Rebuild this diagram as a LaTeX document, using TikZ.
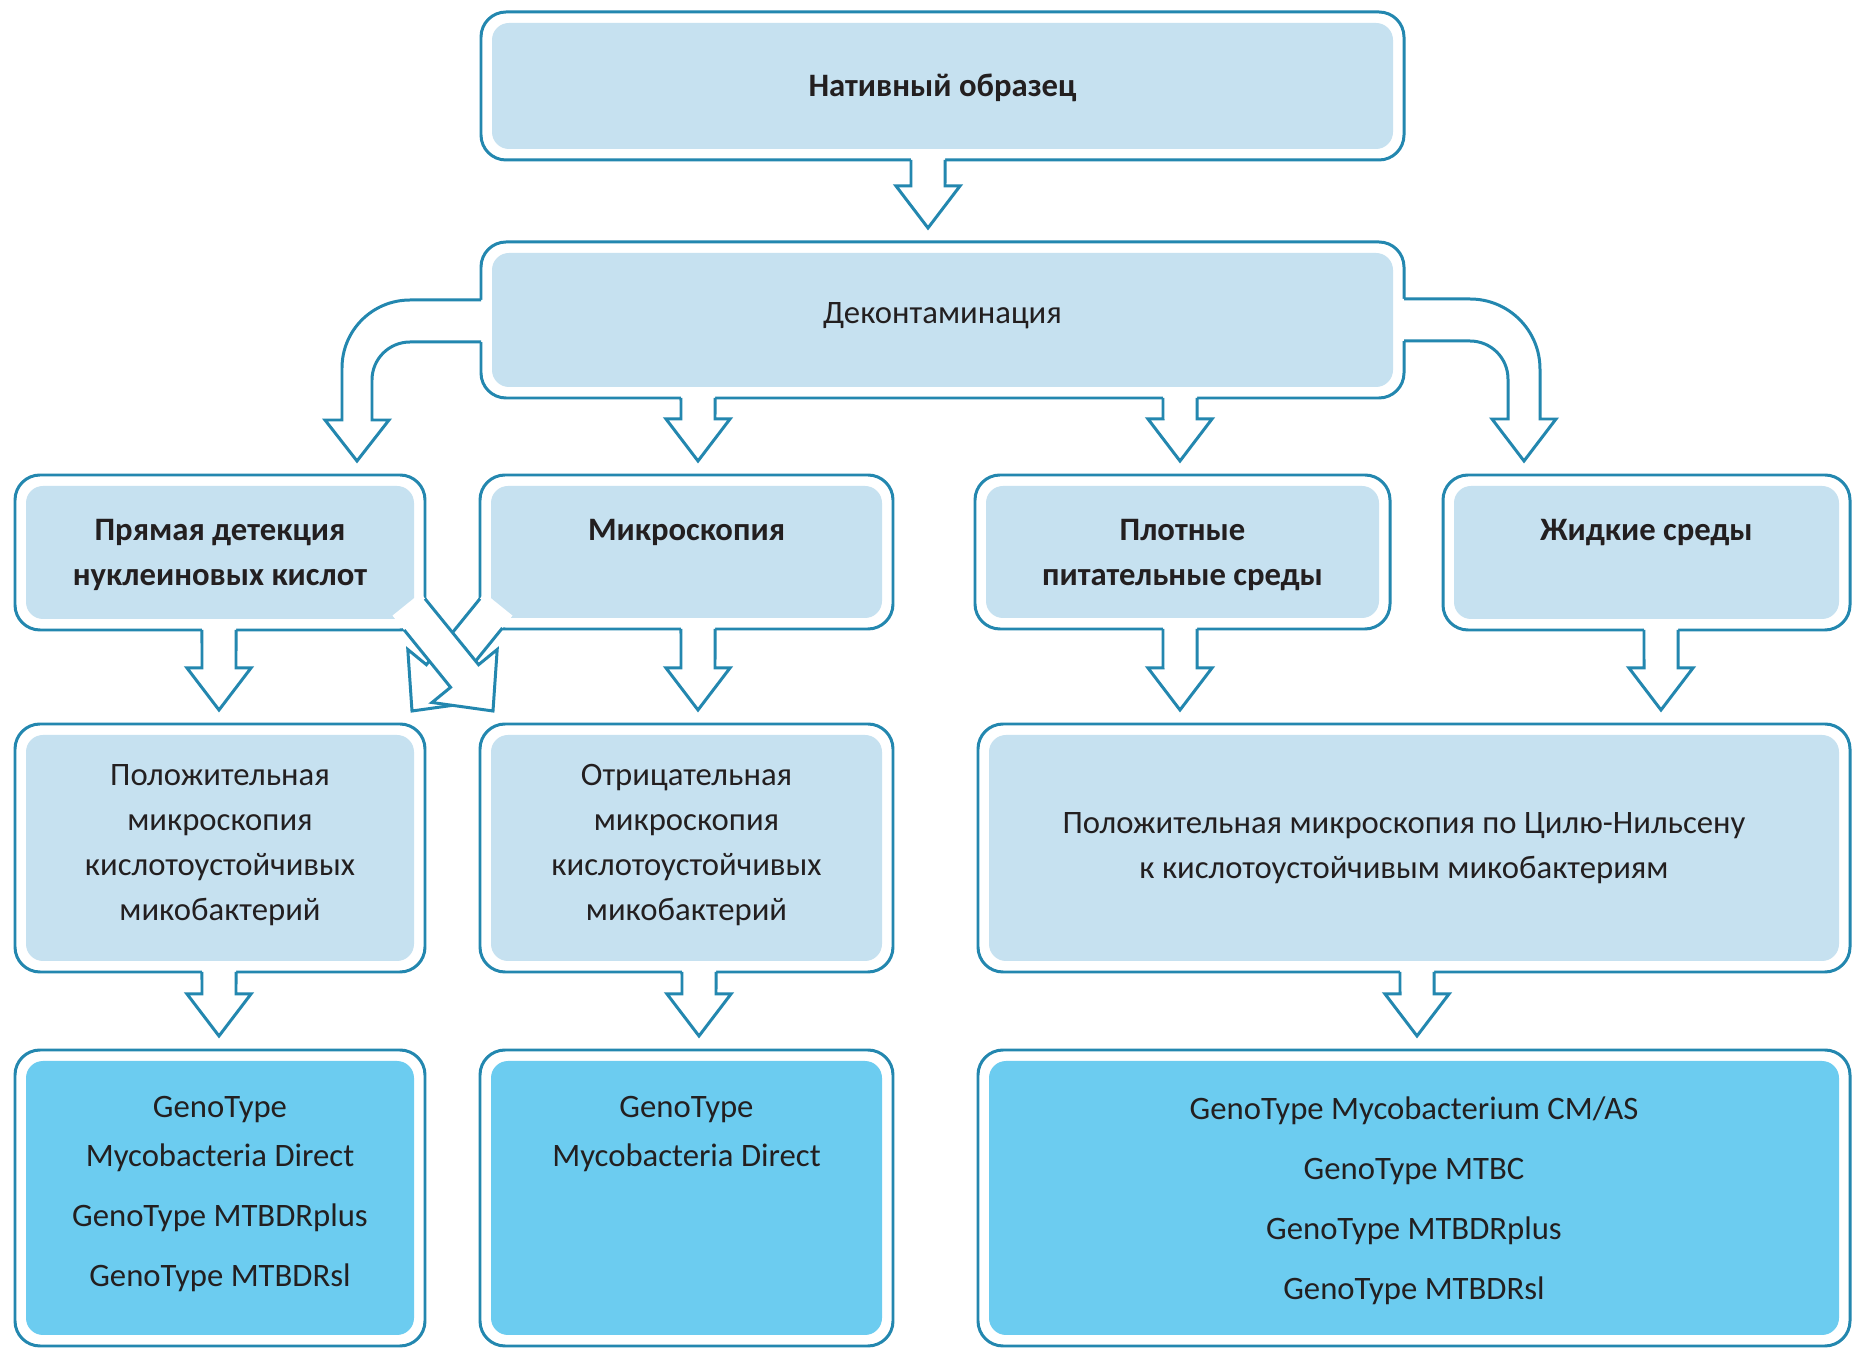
\documentclass[tikz,border=0pt]{standalone}
\usepackage{fontspec}
\setmainfont{Carlito}
\usetikzlibrary{fit}

% block arrow straight down: x position (px), source node, target node
\newcommand{\blockdown}[3]{%
  \coordinate (bx) at (#1,0);
  \coordinate (bs) at (bx |- #2.south);
  \coordinate (bt0) at (bx |- #3.north);
  \coordinate (bt) at ([yshift=0.14cm]bt0);
  \fill[white] ([shift={(-17,-5)}]bs) -- ([shift={(-17,-42)}]bt) -- ([shift={(-32,-42)}]bt) -- (bt)
    -- ([shift={(32,-42)}]bt) -- ([shift={(17,-42)}]bt) -- ([shift={(17,-5)}]bs) -- cycle;
  \draw[arrline] ([xshift=-0.17cm]bs) -- ([shift={(-17,-42)}]bt) -- ([shift={(-32,-42)}]bt) -- (bt)
    -- ([shift={(32,-42)}]bt) -- ([shift={(17,-42)}]bt) -- ([xshift=0.17cm]bs);
}

\begin{document}
\begin{tikzpicture}[x=0.01cm,y=-0.01cm,
  outerbox/.style={draw=frame,line width=0.85pt,rounded corners=0.25cm,inner sep=0pt,outer sep=0pt},
  arrline/.style={draw=frame,line width=0.85pt,line join=miter},
  txt/.style={font=\fontsize{9.3}{12.8}\selectfont,text=ink,align=center,inner sep=0pt,anchor=north},
  headtxt/.style={txt,font=\fontsize{9.3}{12.8}\selectfont\bfseries},
  kittxt/.style={txt,font=\fontsize{9.3}{13.7}\selectfont}]
	\definecolor{frame}{RGB}{35,135,175}
	\definecolor{pale}{RGB}{198,225,240}
	\definecolor{deep}{RGB}{108,204,240}
	\definecolor{ink}{RGB}{35,31,32}

	\fill[white] (0,0) rectangle (1853,1349);
	\useasboundingbox (0,0) rectangle (1853,1349);

	% boxes
	\node[outerbox,fit={(481,12) (1404,160)}] (sample) {};
	\node[outerbox,fit={(481,242) (1404,398)}] (decont) {};
	\node[outerbox,fit={(15,475) (425,630)}] (nucl) {};
	\node[outerbox,fit={(480,475) (893,629)}] (micro) {};
	\node[outerbox,fit={(975,475) (1390,629)}] (solid) {};
	\node[outerbox,fit={(1443,475) (1850,630)}] (liquid) {};
	\node[outerbox,fit={(15,724) (425,972)}] (posA) {};
	\node[outerbox,fit={(480,724) (893,972)}] (negB) {};
	\node[outerbox,fit={(978,724) (1850,972)}] (posC) {};
	\node[outerbox,fit={(15,1050) (425,1346)}] (kitA) {};
	\node[outerbox,fit={(480,1050) (893,1346)}] (kitB) {};
	\node[outerbox,fit={(978,1050) (1850,1346)}] (kitC) {};

	\foreach \b in {sample,decont,nucl,micro,solid,liquid,posA,negB,posC}
		\fill[pale,rounded corners=0.17cm] ([shift={(11,11)}]\b.north west) rectangle ([shift={(-11,-11)}]\b.south east);
	\foreach \b in {kitA,kitB,kitC}
		\fill[deep,rounded corners=0.17cm] ([shift={(11,11)}]\b.north west) rectangle ([shift={(-11,-11)}]\b.south east);

	% straight arrows
	\blockdown{928}{sample}{decont}
	\blockdown{698}{decont}{micro}
	\blockdown{1180}{decont}{solid}
	\blockdown{219}{nucl}{posA}
	\blockdown{698}{micro}{negB}
	\blockdown{1180}{solid}{posC}
	\blockdown{1661}{liquid}{posC}
	\blockdown{219}{posA}{kitA}
	\blockdown{699}{negB}{kitB}
	\blockdown{1417}{posC}{kitC}

	% curved arrows
	\fill[white] (486,300) -- (410,300) .. controls (372.4,300) and (342,330.4) .. (342,368) -- (342,420) -- (325,420) -- (357,461)
		-- (389,420) -- (372,420) -- (372,380) .. controls (372,359) and (389,342) .. (410,342) -- (486,342) -- cycle;
	\draw[arrline] (481,300) -- (410,300) .. controls (372.4,300) and (342,330.4) .. (342,368) -- (342,420) -- (325,420) -- (357,461)
		-- (389,420) -- (372,420) -- (372,380) .. controls (372,359) and (389,342) .. (410,342) -- (481,342);
	\fill[white] (1399,299) -- (1470,299) .. controls (1508.7,299) and (1540,330.3) .. (1540,369) -- (1540,419) -- (1556,419) -- (1524,461)
		-- (1492,419) -- (1508,419) -- (1508,379) .. controls (1508,358) and (1491,341) .. (1470,341) -- (1399,341) -- cycle;
	\draw[arrline] (1404,299) -- (1470,299) .. controls (1508.7,299) and (1540,330.3) .. (1540,369) -- (1540,419) -- (1556,419) -- (1524,461)
		-- (1492,419) -- (1508,419) -- (1508,379) .. controls (1508,358) and (1491,341) .. (1470,341) -- (1404,341);

	% crossed arrows
	\fill[white] (484.5,593) -- (426.4,664.7) -- (407.8,649.5) -- (412,711) -- (473,702.5) -- (454.4,687.3) -- (512.5,615.6) -- cycle;
	\draw[arrline] (480,598.7) -- (426.4,664.7) -- (407.8,649.5) -- (412,711) -- (473,702.5) -- (454.4,687.3) -- (502.4,628);
	\fill[white] (420.5,593) -- (478.6,664.7) -- (497.2,649.5) -- (493,711) -- (432,702.5) -- (450.6,687.3) -- (392.5,615.6) -- cycle;
	\draw[arrline] (425,598.7) -- (478.6,664.7) -- (497.2,649.5) -- (493,711) -- (432,702.5) -- (450.6,687.3) -- (404.2,630);

	% texts
	\node[headtxt] (sample-t) at ([yshift=-0.61cm]sample.north) {Нативный образец};
	\node[txt] (decont-t) at ([yshift=-0.60cm]decont.north) {Деконтаминация};
	\node[headtxt] (nucl-t) at ([yshift=-0.44cm]nucl.north) {Прямая детекция\\нуклеиновых кислот};
	\node[headtxt] (micro-t) at ([yshift=-0.44cm]micro.north) {Микроскопия};
	\node[headtxt] (solid-t) at ([yshift=-0.44cm]solid.north) {Плотные\\питательные среды};
	\node[headtxt] (liquid-t) at ([yshift=-0.44cm]liquid.north) {Жидкие среды};
	\node[txt] (posA-t) at ([yshift=-0.40cm]posA.north) {Положительная\\микроскопия\\кислотоустойчивых\\микобактерий};
	\node[txt] (negB-t) at ([yshift=-0.40cm]negB.north) {Отрицательная\\микроскопия\\кислотоустойчивых\\микобактерий};
	\node[txt] (posC-t) at ([shift={(-10,88)}]posC.north) {Положительная микроскопия по Цилю-Нильсену\\к кислотоустойчивым микобактериям};
	\node[kittxt] (kitA-t) at ([yshift=-0.46cm]kitA.north) {GenoType\\Mycobacteria Direct\\[3.4pt]GenoType MTBDRplus\\[3.4pt]GenoType MTBDRsl};
	\node[kittxt] (kitB-t) at ([yshift=-0.46cm]kitB.north) {GenoType\\Mycobacteria Direct};
	\node[kittxt] (kitC-t) at ([yshift=-0.46cm]kitC.north) {GenoType Mycobacterium CM/AS\\[3.4pt]GenoType MTBC\\[3.4pt]GenoType MTBDRplus\\[3.4pt]GenoType MTBDRsl};
\end{tikzpicture}
\end{document}
